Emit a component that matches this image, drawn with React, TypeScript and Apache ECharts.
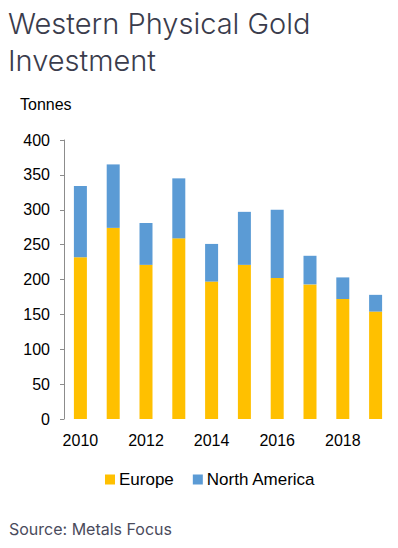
import React, { useEffect, useRef } from "react";
import * as echarts from "echarts";

const years = ["2010", "2011", "2012", "2013", "2014", "2015", "2016", "2017", "2018", "2019"];
const europe = [232, 274, 221, 259, 197, 221, 202, 193, 172, 154];
const northAmerica = [102, 91, 60, 86, 54, 76, 98, 41, 31, 24];
const yTicks = { min: 0, max: 400, interval: 50 };

export default function App() {
  const ref = useRef<HTMLDivElement>(null);
  useEffect(() => {
    if (!ref.current) return;
    const chart = echarts.init(ref.current, null, { renderer: "svg" });
    chart.setOption({
      animation: false,
      backgroundColor: "#ffffff",
      graphic: [
        {
          type: "text",
          left: 8,
          top: 5,
          style: {
            text: "Western Physical Gold\nInvestment",
            fontFamily: "Inter",
            fontWeight: 300,
            fontSize: 29,
            lineHeight: 37,
            fill: "#3a3c4c",
          },
        },
        {
          type: "text",
          left: 20,
          top: 96,
          style: { text: "Tonnes", fontFamily: "Liberation Sans, Arial", fontSize: 16, fill: "#000" },
        },
        {
          type: "text",
          left: 9,
          top: 521,
          style: { text: "Source: Metals Focus", fontFamily: "Inter", fontSize: 16, fill: "#4a4b5c" },
        },
      ],
      legend: {
        left: 105,
        top: 471,
        padding: 0,
        itemWidth: 10,
        itemHeight: 10,
        itemGap: 19,
        icon: "rect",
        textStyle: { fontFamily: "Liberation Sans, Arial", fontSize: 17, color: "#000", padding: [0, 0, 0, -1] },
        data: ["Europe", "North America"],
      },
      grid: { left: 64, right: 6, top: 140, bottom: 129 },
      xAxis: {
        type: "category",
        data: years,
        axisLine: { show: false },
        axisTick: { show: false },
        axisLabel: {
          interval: 1,
          margin: 13,
          fontFamily: "Liberation Sans, Arial",
          fontSize: 16,
          color: "#000",
        },
      },
      yAxis: {
        type: "value",
        min: yTicks.min,
        max: yTicks.max,
        interval: yTicks.interval,
        splitLine: { show: false },
        axisLine: { show: true, lineStyle: { color: "#8c8c8c", width: 1 } },
        axisTick: { show: true, length: 4, lineStyle: { color: "#8c8c8c" } },
        axisLabel: {
          margin: 14,
          fontFamily: "Liberation Sans, Arial",
          fontSize: 16,
          color: "#000",
        },
      },
      series: [
        {
          name: "Europe",
          type: "bar",
          stack: "total",
          data: europe,
          barWidth: 13,
          itemStyle: { color: "#FFC000" },
        },
        {
          name: "North America",
          type: "bar",
          stack: "total",
          data: northAmerica,
          barWidth: 13,
          itemStyle: { color: "#5B9BD5" },
        },
      ],
    });
    return () => chart.dispose();
  }, []);
  return <div ref={ref} style={{ width: 398, height: 548, margin: -8 }} />;
}
